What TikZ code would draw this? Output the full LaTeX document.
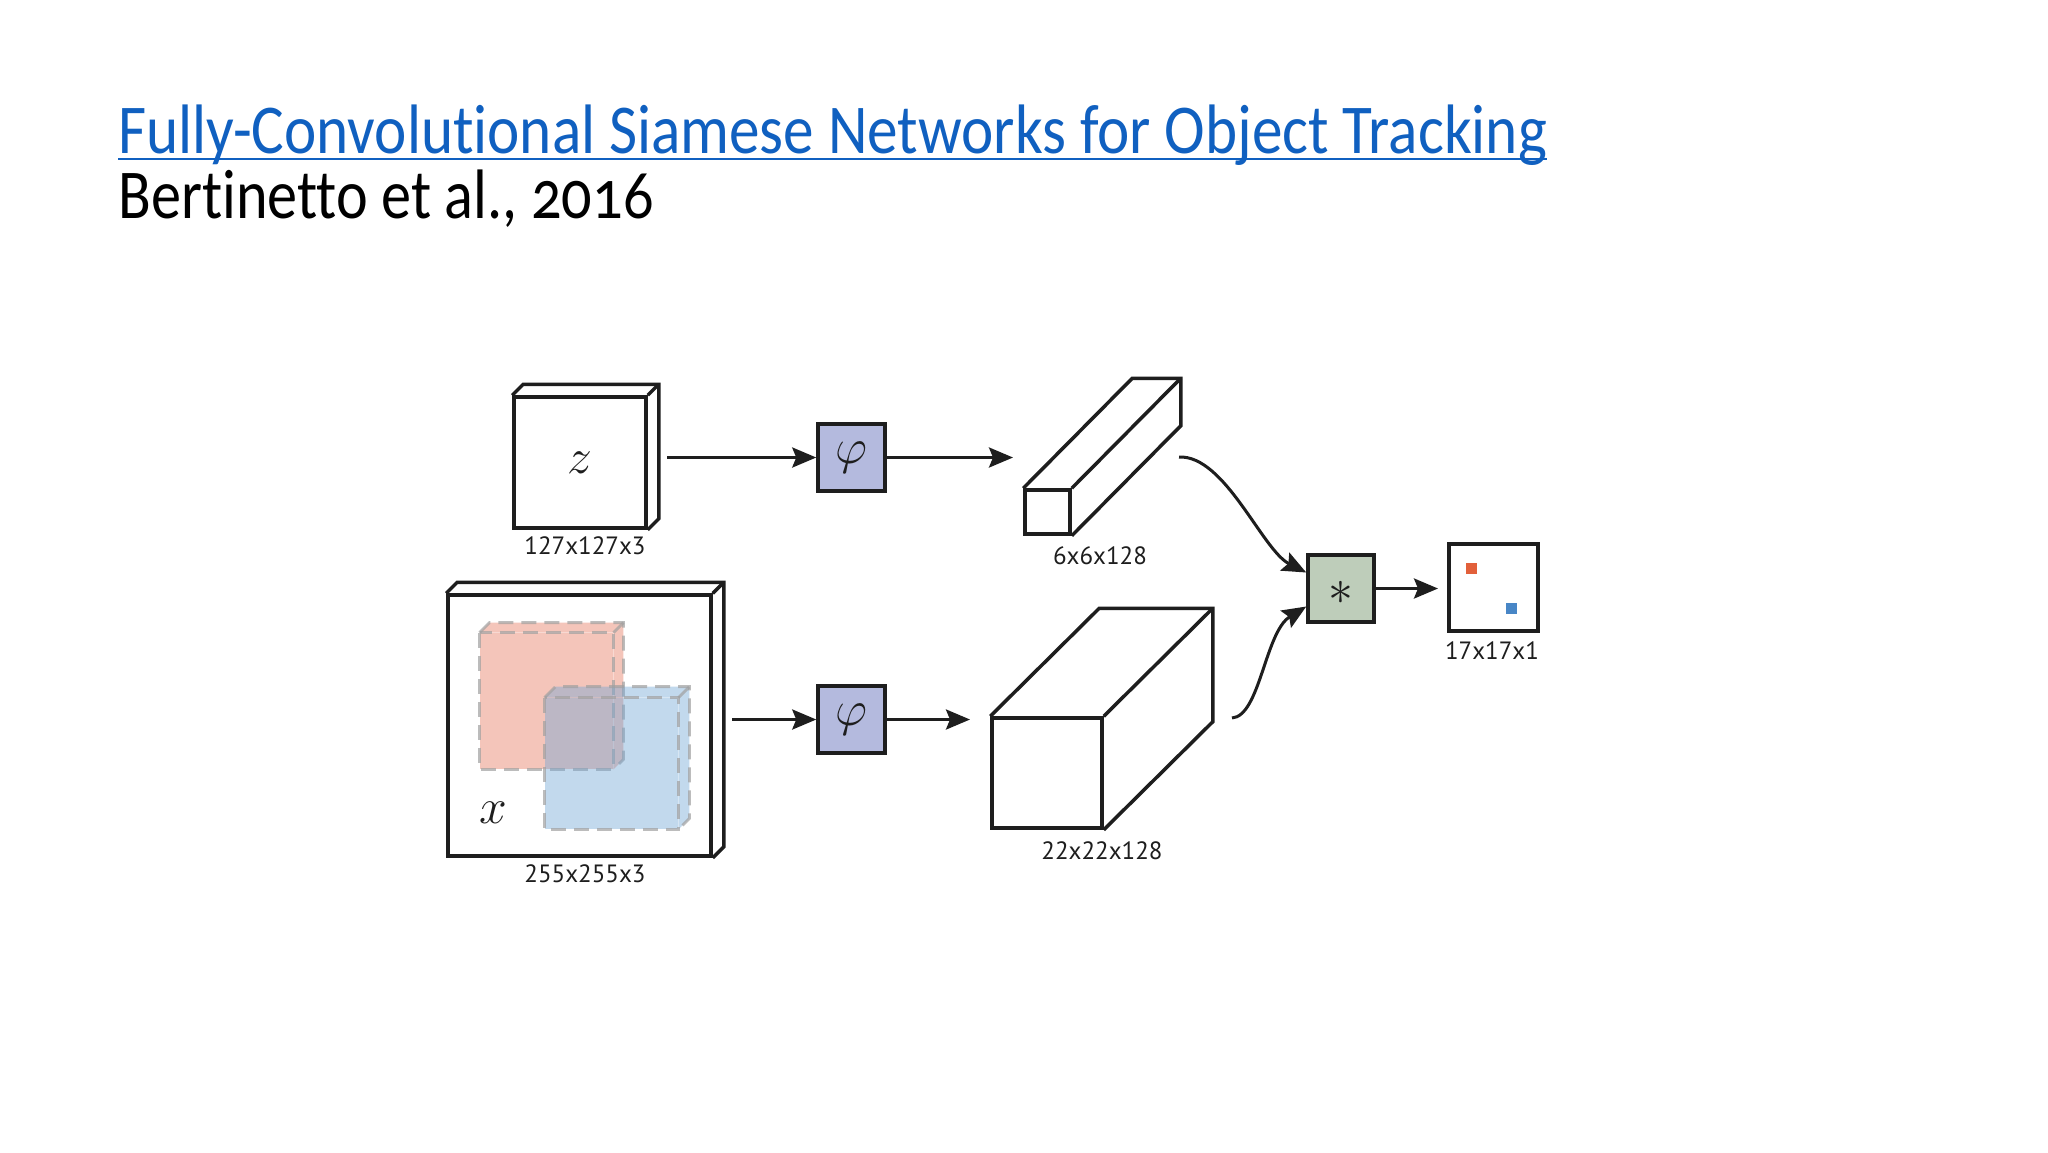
\documentclass[tikz,border=0pt]{standalone}
\usepackage{graphicx}
\usepackage{fontspec}
\setmainfont{Carlito}[Ligatures=CommonOff]
\newfontfamily\labelfont{PT Sans}
\usetikzlibrary{arrows.meta}
\definecolor{linkblue}{RGB}{16,96,192}
\definecolor{phicol}{RGB}{180,186,222}
\definecolor{corrcol}{RGB}{190,205,186}
\definecolor{inkcol}{RGB}{30,30,30}
\definecolor{redsq}{RGB}{226,96,58}
\definecolor{bluesq}{RGB}{72,134,198}
\definecolor{redcube}{RGB}{232,128,104}
\definecolor{bluecube}{RGB}{112,166,214}
\definecolor{dashgray}{RGB}{160,160,160}
\tikzset{
  boxline/.style={draw=inkcol, line width=1.75pt, line join=miter},
  face/.style={boxline, rectangle, inner sep=0pt, fill=white},
  opbox/.style={boxline, rectangle, inner sep=0pt, minimum width=33.5pt, minimum height=33.5pt},
  arr/.style={draw=inkcol, line width=1.5pt, -{Stealth[length=12pt,width=10pt,inset=2pt]}},
  dimlabel/.style={font=\labelfont\fontsize{12.5}{14}\selectfont, text=inkcol, anchor=base, inner sep=0pt},
  mathlabel/.style={font=\fontsize{24}{28}\selectfont, text=inkcol, inner sep=0pt},
  dcube/.style={draw=dashgray, line width=1.4pt, dash pattern=on 7.5pt off 4pt, draw opacity=0.7}
}
\begin{document}
\begin{tikzpicture}[x=0.5pt,y=-0.5pt]
\useasboundingbox[fill=white] (0,0) rectangle (2048,1152);

% title
\node[anchor=base west, inner sep=0pt, text=linkblue, font=\fontsize{35}{40}\selectfont] (title) at (118,153) {\scalebox{0.874}[1]{Fully-Convolutional Siamese Networks for Object Tracking}};
\draw[linkblue, line width=1.4pt] ([yshift=-3pt]title.base west) -- ([yshift=-3pt]title.base east);
\node[anchor=base west, inner sep=0pt, text=black, font=\addfontfeatures{Numbers=OldStyle}\fontsize{35}{40}\selectfont] (author) at (118,218) {\scalebox{0.86}[1]{Bertinetto et al., 2016}};

% z box
\node[face, minimum width=66pt, minimum height=65.5pt] (zf) at (580,462.5) {};
\draw[boxline] (zf.north west) -- ++(11,-11) -- ([shift={(11,-11)}]zf.north east) -- ([shift={(11,-11)}]zf.south east) -- (zf.south east);
\draw[boxline] (zf.north east) -- ++(11,-11);
\node[mathlabel] (zlab) at (zf.center) {$z$};
\node[dimlabel] (zdim) at (585,554) {127x127x3};

% x box
\node[face, minimum width=131.5pt, minimum height=130.5pt] (xf) at (579.5,725.5) {};
\draw[boxline] (xf.north west) -- ++(11,-11) -- ([shift={(11,-11)}]xf.north east) -- ([shift={(11,-11)}]xf.south east) -- (xf.south east);
\draw[boxline] (xf.north east) -- ++(11,-11);
% red candidate
\node[rectangle, inner sep=0pt, minimum width=66.5pt, minimum height=68pt, fill=redcube, fill opacity=0.45] (rc) at (546.5,701) {};
\fill[redcube, opacity=0.45] (rc.north west) -- ++(10,-10) -- ([shift={(10,-10)}]rc.north east) -- ([shift={(10,-10)}]rc.south east) -- (rc.south east) -- (rc.north east) -- cycle;
\draw[dcube] (rc.north west) rectangle (rc.south east);
\draw[dcube] (rc.north west) -- ++(10,-10) -- ([shift={(10,-10)}]rc.north east) -- ([shift={(10,-10)}]rc.south east) -- (rc.south east);
\draw[dcube] (rc.north east) -- ++(10,-10);
% blue candidate
\node[rectangle, inner sep=0pt, minimum width=66.5pt, minimum height=65.5pt, fill=bluecube, fill opacity=0.42] (bc) at (611.5,763.5) {};
\fill[bluecube, opacity=0.42] (bc.north west) -- ++(11,-11) -- ([shift={(11,-11)}]bc.north east) -- ([shift={(11,-11)}]bc.south east) -- (bc.south east) -- (bc.north east) -- cycle;
\draw[dcube] (bc.north west) rectangle (bc.south east);
\draw[dcube] (bc.north west) -- ++(11,-11) -- ([shift={(11,-11)}]bc.north east) -- ([shift={(11,-11)}]bc.south east) -- (bc.south east);
\draw[dcube] (bc.north east) -- ++(11,-11);
\node[mathlabel] (xlab) at (493,813) {$x$};
\node[dimlabel] (xdim) at (585,882) {255x255x3};

% phi boxes
\node[opbox, fill=phicol] (phi1) at (851.5,457.5) {};
\node[mathlabel] at (phi1.center) {$\varphi$};
\node[opbox, fill=phicol] (phi2) at (851.5,719.5) {};
\node[mathlabel] at (phi2.center) {$\varphi$};

% 6x6x128 bar
\node[face, minimum width=22.5pt, minimum height=22pt] (bf) at (1047.5,512) {};
\draw[boxline] (bf.north west) -- ++(109,-110) -- ([shift={(109,-110)}]bf.north east) -- ([shift={(109,-110)}]bf.south east) -- (bf.south east);
\draw[boxline] (bf.north east) -- ++(109,-110);
\node[dimlabel] (bdim) at (1100,564) {6x6x128};

% 22x22x128 block
\node[face, minimum width=55pt, minimum height=55pt] (gf) at (1047,773) {};
\draw[boxline] (gf.north west) -- ++(109,-108) -- ([shift={(109,-108)}]gf.north east) -- ([shift={(109,-108)}]gf.south east) -- (gf.south east);
\draw[boxline] (gf.north east) -- ++(109,-108);
\node[dimlabel] (gdim) at (1102,859) {22x22x128};

% correlation
\node[opbox, fill=corrcol, minimum width=33pt] (corr) at (1341,588.5) {};
\node[font=\fontsize{30}{32}\selectfont, text=inkcol, inner sep=0pt] at ([yshift=-2pt]corr.center) {$\ast$};

% output map
\node[face, minimum width=44.5pt, minimum height=43.5pt] (outm) at (1493.5,587.5) {};
\node[rectangle, inner sep=0pt, minimum size=5.5pt, fill=redsq] (rdot) at (1471,568.5) {};
\node[rectangle, inner sep=0pt, minimum size=5.5pt, fill=bluesq] (bdot) at (1511.5,608.5) {};
\node[dimlabel] (odim) at (1492,659) {17x17x1};

% connectors
\coordinate (zout) at (667,457.5);
\coordinate (xout) at (732,719.5);
\coordinate (bin) at (1013,457.5);
\coordinate (gin) at (970,719.5);
\coordinate (bout) at (1179,457);
\coordinate (gout) at (1232,718);
\coordinate (oin) at (1438,588.5);
\draw[arr] (zout) -- (phi1.west);
\draw[arr] (phi1.east) -- (bin);
\draw[arr] (xout) -- (phi2.west);
\draw[arr] (phi2.east) -- (gin);
\draw[arr] (bout) .. controls (1225,455) and (1262,550) .. ([yshift=8pt]corr.west);
\draw[arr] (gout) .. controls (1260,716) and (1265,632) .. ([yshift=-9pt]corr.west);
\draw[arr] (corr.east) -- (oin);
\end{tikzpicture}
\end{document}
